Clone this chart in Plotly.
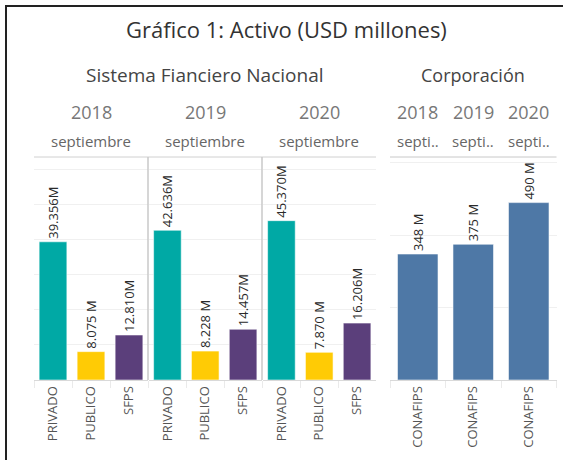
import plotly.graph_objects as go

W, H = 563, 460

years = ["2018", "2019", "2020"]
month_full = "septiembre"
month_short = "septi.."
sfn_categories = ["PRIVADO", "PUBLICO", "SFPS"]
sfn_values = {
    "2018": [39356, 8075, 12810],
    "2019": [42636, 8228, 14457],
    "2020": [45370, 7870, 16206],
}
sfn_labels = {
    "2018": ["39.356M", "8.075 M", "12.810M"],
    "2019": ["42.636M", "8.228 M", "14.457M"],
    "2020": ["45.370M", "7.870 M", "16.206M"],
}
corp_category = ["CONAFIPS"]
corp_values = [348, 375, 490]
corp_labels = ["348 M", "375 M", "490 M"]

sfn_colors = ["#00A9A5", "#FFCB05", "#5B3F7B"]
corp_color = "#4E78A6"

FONT = "Open Sans"


def X(px):
    return px / W


def Y(py):
    return 1 - py / H


left_domains = [(34, 148), (148.5, 262), (262.5, 376)]
right_domains = [(390, 445.5), (445.5, 501), (501, 556.5)]
ytop, ybot = 157, 380

fig = go.Figure()

for i, yr in enumerate(years):
    fig.add_trace(go.Bar(
        x=sfn_categories, y=sfn_values[yr], text=sfn_labels[yr],
        marker=dict(color=sfn_colors, line=dict(color="rgba(255,255,255,0.55)", width=1)),
        textposition="outside", textangle=-90, constraintext="none", cliponaxis=False,
        textfont=dict(family=FONT, size=13, color="#2A2A2A"),
        xaxis=f"x{i + 1}" if i else "x", yaxis="y", showlegend=False,
    ))

for j, yr in enumerate(years):
    fig.add_trace(go.Bar(
        x=corp_category, y=[corp_values[j]], text=[corp_labels[j]],
        marker=dict(color=corp_color, line=dict(color="rgba(255,255,255,0.55)", width=1)),
        textposition="outside", textangle=-90, constraintext="none", cliponaxis=False,
        textfont=dict(family=FONT, size=13, color="#2A2A2A"),
        xaxis=f"x{j + 4}", yaxis="y2", showlegend=False,
    ))

layout = dict(
    width=W, height=H,
    margin=dict(l=0, r=0, t=0, b=0),
    paper_bgcolor="white", plot_bgcolor="white",
    bargap=0.27,
    font=dict(family=FONT, color="#555555"),
)

xcommon = dict(
    type="category", showline=True, linecolor="#D9D9D9", linewidth=1,
    showgrid=False, zeroline=False, tickangle=-90,
    ticks="outside", tickson="boundaries", ticklen=7, tickcolor="#EAEAEA",
    tickfont=dict(family=FONT, size=13, color="#555555"), fixedrange=True,
)

for i, (a, b) in enumerate(left_domains + right_domains):
    key = "xaxis" if i == 0 else f"xaxis{i + 1}"
    layout[key] = dict(xcommon, domain=[X(a), X(b)], anchor="y" if i < 3 else "y2")

ydom = [Y(ybot), Y(ytop)]
layout["yaxis"] = dict(domain=ydom, range=[0, 63500], anchor="x", showticklabels=False,
                       showgrid=True, gridcolor="#F0F0F0", zeroline=False, dtick=10000,
                       ticks="", fixedrange=True)
layout["yaxis2"] = dict(domain=ydom, range=[0, 616], anchor="x4", showticklabels=False,
                        showgrid=True, gridcolor="#F0F0F0", zeroline=False, dtick=200,
                        ticks="", fixedrange=True)

fig.update_layout(**layout)

ann = []
ann.append(dict(text="Gráfico 1: Activo (USD millones)", x=X(286), y=Y(29),
                font=dict(size=22, color="#333333", family=FONT)))
ann.append(dict(text="Sistema Fianciero Nacional", x=X((left_domains[0][0] + left_domains[2][1]) / 2),
                y=Y(75), font=dict(size=19, color="#444444", family=FONT)))
ann.append(dict(text="Corporación", x=X((right_domains[0][0] + right_domains[2][1]) / 2),
                y=Y(75), font=dict(size=18, color="#444444", family=FONT)))
for i, yr in enumerate(years):
    a, b = left_domains[i]
    ann.append(dict(text=yr, x=X((a + b) / 2), y=Y(112), font=dict(size=18, color="#777777", family=FONT)))
    ann.append(dict(text=month_full, x=X((a + b) / 2), y=Y(141), font=dict(size=15, color="#666666", family=FONT)))
    a, b = right_domains[i]
    ann.append(dict(text=yr, x=X((a + b) / 2), y=Y(112), font=dict(size=18, color="#777777", family=FONT)))
    ann.append(dict(text=month_short, x=X((a + b) / 2), y=Y(141), font=dict(size=15, color="#666666", family=FONT)))
for d in ann:
    d.update(xref="paper", yref="paper", showarrow=False, xanchor="center", yanchor="middle")
fig.update_layout(annotations=ann)

shapes = []
# outer frame
shapes.append(dict(type="rect", xref="paper", yref="paper", x0=X(6), x1=X(600), y0=Y(520), y1=Y(6),
                   line=dict(color="#222222", width=2)))
# header underline for each panel
shapes.append(dict(type="line", xref="paper", yref="paper", x0=X(left_domains[0][0]), x1=X(left_domains[2][1]),
                   y0=Y(ytop), y1=Y(ytop), line=dict(color="#D0D0D0", width=1)))
shapes.append(dict(type="line", xref="paper", yref="paper", x0=X(right_domains[0][0]), x1=X(right_domains[2][1]),
                   y0=Y(ytop), y1=Y(ytop), line=dict(color="#C8C8C8", width=1)))
# dividers between year panes
for a, b in left_domains[1:]:
    shapes.append(dict(type="line", xref="paper", yref="paper", x0=X(a - 0.5), x1=X(a - 0.5),
                       y0=Y(ybot), y1=Y(ytop), line=dict(color="#C8C8C8", width=1.5)))
fig.update_layout(shapes=shapes)

fig.write_html("out.html", config={"displayModeBar": False},
               post_script="document.body.style.margin='0';document.body.style.overflow='hidden';")
